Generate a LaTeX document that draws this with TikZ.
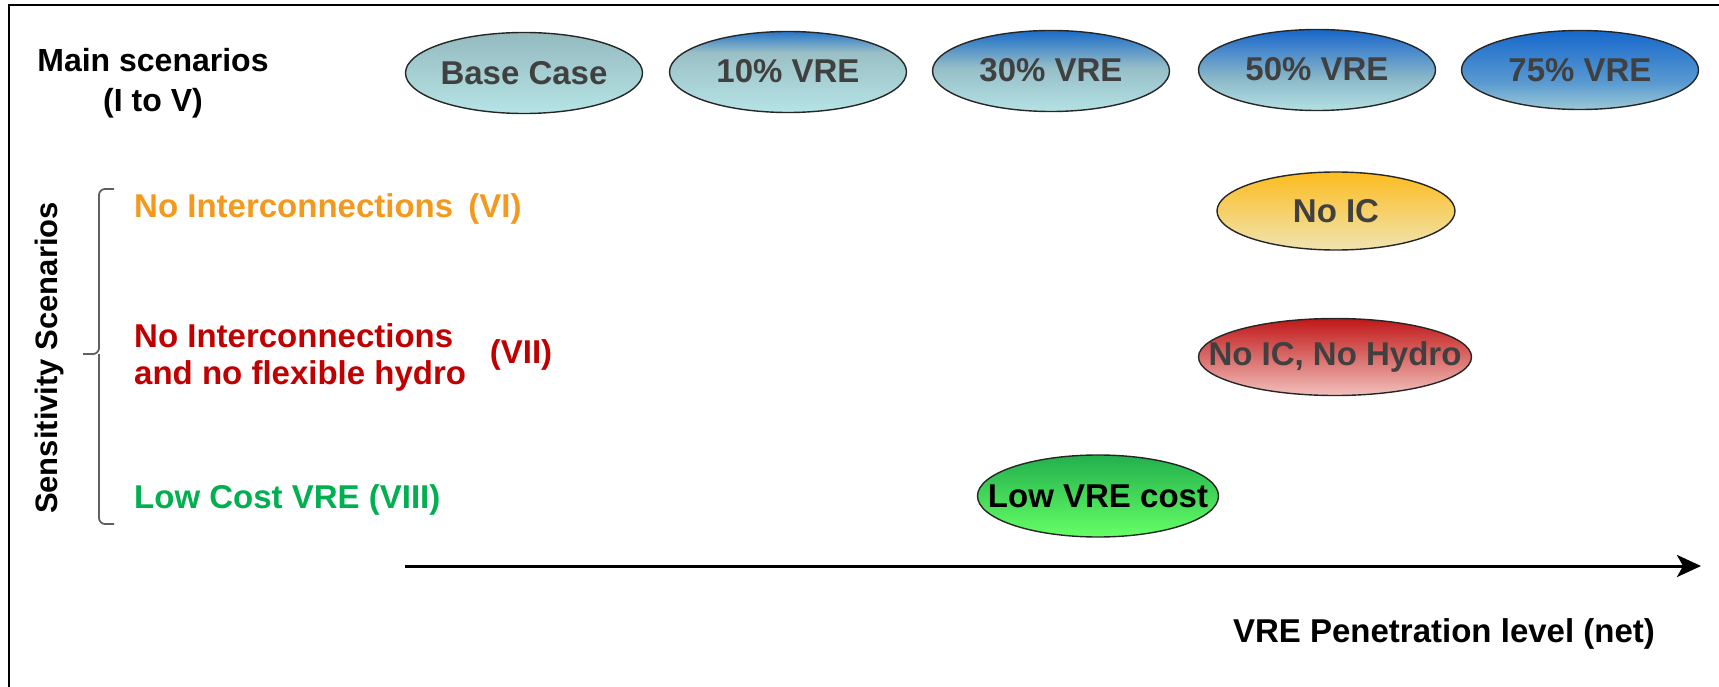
\documentclass[tikz,border=0pt]{standalone}
\usepackage{fontspec}
\setmainfont{Liberation Sans}
\usetikzlibrary{shapes.geometric,arrows.meta}

% label colours
\definecolor{lblOrange}{HTML}{F39A1E}
\definecolor{lblRed}{HTML}{C00000}
\definecolor{lblGreen}{HTML}{00B050}
\definecolor{ovalText}{HTML}{404040}
\definecolor{braceGray}{HTML}{606060}

% vertical fills for the ovals (bounding box maps to 25bp..75bp, bottom to top)
\pgfdeclareverticalshading{fillBase}{100bp}{color(0bp)=(rgb,255:red,182;green,228;blue,230); color(25bp)=(rgb,255:red,182;green,228;blue,230); color(75bp)=(rgb,255:red,148;green,186;blue,190); color(100bp)=(rgb,255:red,148;green,186;blue,190)}
\pgfdeclareverticalshading{fillTen}{100bp}{color(0bp)=(rgb,255:red,182;green,228;blue,230); color(25bp)=(rgb,255:red,182;green,228;blue,230); color(62bp)=(rgb,255:red,154;green,192;blue,198); color(75bp)=(rgb,255:red,40;green,118;blue,200); color(100bp)=(rgb,255:red,40;green,118;blue,200)}
\pgfdeclareverticalshading{fillThirty}{100bp}{color(0bp)=(rgb,255:red,180;green,226;blue,228); color(25bp)=(rgb,255:red,180;green,226;blue,228); color(52bp)=(rgb,255:red,150;green,190;blue,200); color(75bp)=(rgb,255:red,26;green,108;blue,200); color(100bp)=(rgb,255:red,26;green,108;blue,200)}
\pgfdeclareverticalshading{fillFifty}{100bp}{color(0bp)=(rgb,255:red,180;green,224;blue,228); color(25bp)=(rgb,255:red,180;green,224;blue,228); color(45bp)=(rgb,255:red,138;green,184;blue,200); color(62bp)=(rgb,255:red,74;green,138;blue,204); color(75bp)=(rgb,255:red,22;green,102;blue,200); color(100bp)=(rgb,255:red,22;green,102;blue,200)}
\pgfdeclareverticalshading{fillSeventyFive}{100bp}{color(0bp)=(rgb,255:red,156;green,200;blue,214); color(25bp)=(rgb,255:red,156;green,200;blue,214); color(42bp)=(rgb,255:red,90;green,154;blue,208); color(75bp)=(rgb,255:red,22;green,104;blue,204); color(100bp)=(rgb,255:red,22;green,104;blue,204)}
\pgfdeclareverticalshading{fillNoIC}{100bp}{color(0bp)=(rgb,255:red,240;green,228;blue,178); color(25bp)=(rgb,255:red,240;green,228;blue,178); color(75bp)=(rgb,255:red,252;green,188;blue,30); color(100bp)=(rgb,255:red,252;green,188;blue,30)}
\pgfdeclareverticalshading{fillNoHydro}{100bp}{color(0bp)=(rgb,255:red,242;green,192;blue,188); color(25bp)=(rgb,255:red,242;green,192;blue,188); color(75bp)=(rgb,255:red,192;green,24;blue,24); color(100bp)=(rgb,255:red,192;green,24;blue,24)}
\pgfdeclareverticalshading{fillLowCost}{100bp}{color(0bp)=(rgb,255:red,102;green,255;blue,102); color(25bp)=(rgb,255:red,102;green,255;blue,102); color(75bp)=(rgb,255:red,34;green,176;blue,76); color(100bp)=(rgb,255:red,34;green,176;blue,76)}

% oval captions take no width, so the oval keeps its own size
\newcommand{\ovaltxt}[2][0pt]{\makebox[0pt]{\raisebox{#1}{#2}}}

\tikzset{
  txt/.style={font=\fontsize{33}{40}\selectfont\bfseries, inner sep=0pt},
  oval/.style={ellipse, draw=black!85, line width=1.4pt, inner sep=0pt,
    minimum width=237pt, minimum height=81pt,
    font=\fontsize{33}{40}\selectfont\bfseries, text=ovalText},
  frame/.style={line width=2pt, black},
  axisline/.style={line width=3pt, -{Stealth[length=24pt,width=22pt,inset=6pt]}},
  brace/.style={braceGray, line width=1.8pt, rounded corners=6pt},
}

\begin{document}
\begin{tikzpicture}[x=1pt, y=-1pt]
\useasboundingbox (0,0) rectangle (1719,687);

% outer frame (top and left edges)
\draw[frame] (9,687) -- (9,5) -- (1719,5);

% main scenario row
\node[txt, align=center, font=\fontsize{32}{40}\selectfont\bfseries] (mainlbl) at (153,83) {Main scenarios\\(I to V)};
\node[oval, shading=fillBase]        (base) at (524,73)  {\ovaltxt{Base Case}};
\node[oval, shading=fillTen]         (v10)  at (788,72)  {\ovaltxt[3pt]{10\% VRE}};
\node[oval, shading=fillThirty]      (v30)  at (1051,71) {\ovaltxt[3pt]{30\% VRE}};
\node[oval, shading=fillFifty]       (v50)  at (1317,70) {\ovaltxt[3pt]{50\% VRE}};
\node[oval, shading=fillSeventyFive, minimum height=79pt] (v75) at (1580,70) {\ovaltxt{75\% VRE}};

% sensitivity scenarios
\node[txt, rotate=90, font=\fontsize{31}{38}\selectfont\bfseries] (senslbl) at (49,358) {Sensitivity Scenarios};
\coordinate (brTop) at (114,189);
\coordinate (brBot) at (114,524);
\coordinate (brTip) at (83,354);
\draw[brace] (brTop) -- (99,189) -- (99,354) -- (brTip);
\draw[brace] (brBot) -- (99,524) -- (99,354);

\node[txt, anchor=west, text=lblOrange] (lblVI) at (134,209) {No Interconnections\hspace{6pt} (VI)};
\node[txt, anchor=west, align=left, text=lblRed, font=\fontsize{33}{37}\selectfont\bfseries] (lblVII) at (134,357) {No Interconnections\\and no flexible hydro};
\node[txt, text=lblRed] (numVII) at (521,355) {(VII)};
\node[txt, anchor=west, text=lblGreen] (lblVIII) at (134,500) {Low Cost VRE (VIII)};

\node[oval, shading=fillNoIC, minimum width=238pt, minimum height=78pt] (noic) at (1336,211) {\ovaltxt{No IC}};
\node[oval, shading=fillNoHydro, minimum width=273pt, minimum height=77pt] (nohydro) at (1335,357) {\ovaltxt{No IC, No Hydro}};
\node[oval, shading=fillLowCost, minimum width=241pt, minimum height=82pt, text=black] (lowcost) at (1098,496) {\ovaltxt{Low VRE cost}};

% penetration axis
\coordinate (axL) at (405,566);
\coordinate (axR) at (1701,566);
\draw[axisline] (axL) -- (axR);
\node[txt] (axlbl) at (1444,634) {VRE Penetration level (net)};
\end{tikzpicture}
\end{document}
